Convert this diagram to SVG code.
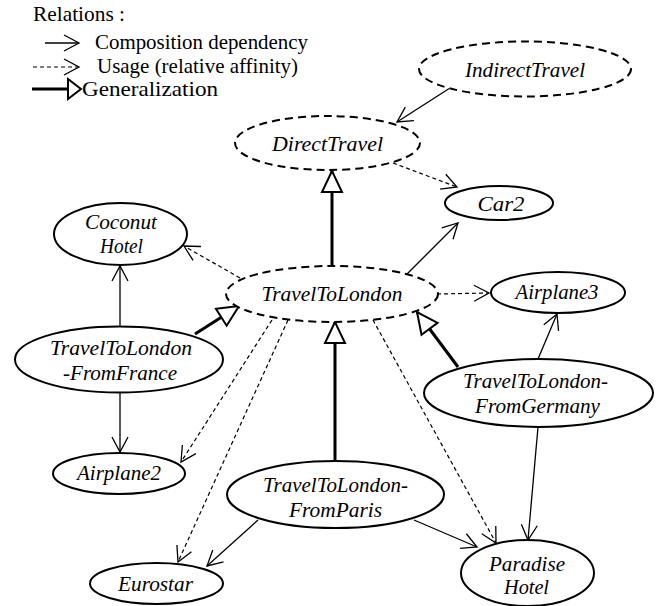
<svg xmlns="http://www.w3.org/2000/svg" width="657" height="606" viewBox="0 0 657 606" font-family="'Liberation Serif', 'DejaVu Serif', 'Noto Serif', serif" font-size="21">
<style>
.bg{fill:#fff}
.node{fill:#fff;stroke:#000;stroke-width:2}
.abs{fill:#fff;stroke:#000;stroke-width:2;stroke-dasharray:8 5}
.lbl{font-style:italic;text-anchor:middle}
.comp{fill:none;stroke:#000;stroke-width:1.3;marker-end:url(#open)}
.use{fill:none;stroke:#000;stroke-width:1.2;stroke-dasharray:4 3;marker-end:url(#open)}
.gen{fill:none;stroke:#000;stroke-width:3;marker-end:url(#tri)}
</style>
<defs>
<marker id="open" viewBox="-17 -10 19 20" refX="0" refY="0" markerWidth="19" markerHeight="20" markerUnits="userSpaceOnUse" orient="auto" overflow="visible">
<path d="M-15,-8 L0,0 L-15,8" fill="none" stroke="#000" stroke-width="1.3"/>
</marker>
<marker id="tri" viewBox="-23 -12 25 24" refX="0" refY="0" markerWidth="25" markerHeight="24" markerUnits="userSpaceOnUse" orient="auto" overflow="visible">
<path d="M0,0 L-21,-10 L-21,10 Z" fill="#fff" stroke="#000" stroke-width="2"/>
</marker>
</defs>
<rect class="bg" x="0" y="0" width="657" height="606"/>

<g id="legend" font-family="Liberation Serif">
<text x="33" y="21" textLength="92" lengthAdjust="spacingAndGlyphs">Relations :</text>
<line x1="45" y1="43" x2="79" y2="43" class="comp"/>
<text x="95" y="49" textLength="213" lengthAdjust="spacingAndGlyphs">Composition dependency</text>
<line x1="33" y1="67" x2="79" y2="67" class="use"/>
<text x="97" y="73" textLength="201" lengthAdjust="spacingAndGlyphs">Usage (relative affinity)</text>
<line x1="32" y1="89" x2="68" y2="89" stroke="#000" stroke-width="3"/>
<polygon points="68,79 81,89 68,99" fill="#fff" stroke="#000" stroke-width="2"/>
<text x="82" y="96" textLength="136" lengthAdjust="spacingAndGlyphs">Generalization</text>
</g>

<g id="connectors">
<line x1="450" y1="88" x2="397" y2="122" class="comp"/>
<line x1="393" y1="163" x2="457" y2="187" class="use"/>
<line x1="332" y1="266" x2="332" y2="171" class="gen"/>
<line x1="407" y1="274" x2="458" y2="223" class="comp"/>
<line x1="437" y1="294" x2="489" y2="293" class="use"/>
<line x1="240" y1="278" x2="184" y2="246" class="use"/>
<line x1="120" y1="326" x2="120" y2="266" class="comp"/>
<line x1="195" y1="334" x2="239" y2="306" class="gen"/>
<line x1="120" y1="393" x2="120" y2="452" class="comp"/>
<line x1="272" y1="320" x2="181" y2="462" class="use"/>
<line x1="288" y1="320" x2="178" y2="562" class="use"/>
<line x1="335" y1="461" x2="335" y2="322" class="gen"/>
<line x1="458" y1="367" x2="417" y2="312" class="gen"/>
<line x1="538" y1="359" x2="557" y2="314" class="comp"/>
<line x1="373" y1="320" x2="496" y2="543" class="use"/>
<line x1="538" y1="427" x2="528" y2="540" class="comp"/>
<line x1="414" y1="520" x2="477" y2="547" class="comp"/>
<line x1="258" y1="520" x2="207" y2="566" class="comp"/>
</g>

<g id="IndirectTravel">
<ellipse class="abs" cx="525" cy="69" rx="106" ry="27.5"/>
<text class="lbl" x="525" y="77" textLength="120" lengthAdjust="spacingAndGlyphs">IndirectTravel</text>
</g>
<g id="DirectTravel">
<ellipse class="abs" cx="327.5" cy="143" rx="92.5" ry="27"/>
<text class="lbl" x="327.5" y="151" textLength="111" lengthAdjust="spacingAndGlyphs">DirectTravel</text>
</g>
<g id="Car2">
<ellipse class="node" cx="499" cy="203" rx="54" ry="17"/>
<text class="lbl" x="501" y="211" textLength="47" lengthAdjust="spacingAndGlyphs">Car2</text>
</g>
<g id="TravelToLondon">
<ellipse class="abs" cx="332" cy="294" rx="106" ry="28"/>
<text class="lbl" x="332" y="301" textLength="141" lengthAdjust="spacingAndGlyphs">TravelToLondon</text>
</g>
<g id="Airplane3">
<ellipse class="node" cx="558" cy="292.5" rx="67" ry="20.5"/>
<text class="lbl" x="557" y="299" textLength="83" lengthAdjust="spacingAndGlyphs">Airplane3</text>
</g>
<g id="CoconutHotel">
<ellipse class="node" cx="120.5" cy="234" rx="66.5" ry="31"/>
<text class="lbl" x="121" y="229" textLength="72" lengthAdjust="spacingAndGlyphs">Coconut</text>
<text class="lbl" x="121.5" y="253" textLength="43" lengthAdjust="spacingAndGlyphs">Hotel</text>
</g>
<g id="TravelToLondonFromFrance">
<ellipse class="node" cx="119" cy="359.5" rx="104" ry="33"/>
<text class="lbl" x="121" y="355" textLength="142" lengthAdjust="spacingAndGlyphs">TravelToLondon</text>
<text class="lbl" x="120" y="380" textLength="114" lengthAdjust="spacingAndGlyphs">-FromFrance</text>
</g>
<g id="TravelToLondonFromGermany">
<ellipse class="node" cx="538.5" cy="393" rx="114.5" ry="34"/>
<text class="lbl" x="535.5" y="388" textLength="145" lengthAdjust="spacingAndGlyphs">TravelToLondon-</text>
<text class="lbl" x="537.5" y="413" textLength="125" lengthAdjust="spacingAndGlyphs">FromGermany</text>
</g>
<g id="Airplane2">
<ellipse class="node" cx="119" cy="473.5" rx="66" ry="20.5"/>
<text class="lbl" x="119" y="480" textLength="84" lengthAdjust="spacingAndGlyphs">Airplane2</text>
</g>
<g id="TravelToLondonFromParis">
<ellipse class="node" cx="335.5" cy="494.5" rx="108.5" ry="33.5"/>
<text class="lbl" x="335.5" y="492" textLength="145" lengthAdjust="spacingAndGlyphs">TravelToLondon-</text>
<text class="lbl" x="335.5" y="517" textLength="93" lengthAdjust="spacingAndGlyphs">FromParis</text>
</g>
<g id="Eurostar">
<ellipse class="node" cx="156.5" cy="583.5" rx="66.5" ry="20.5"/>
<text class="lbl" x="155.5" y="591" textLength="75" lengthAdjust="spacingAndGlyphs">Eurostar</text>
</g>
<g id="ParadiseHotel">
<ellipse class="node" cx="527.5" cy="573" rx="66.5" ry="33"/>
<text class="lbl" x="527" y="571" textLength="76" lengthAdjust="spacingAndGlyphs">Paradise</text>
<text class="lbl" x="526.5" y="594" textLength="45" lengthAdjust="spacingAndGlyphs">Hotel</text>
</g>
</svg>
